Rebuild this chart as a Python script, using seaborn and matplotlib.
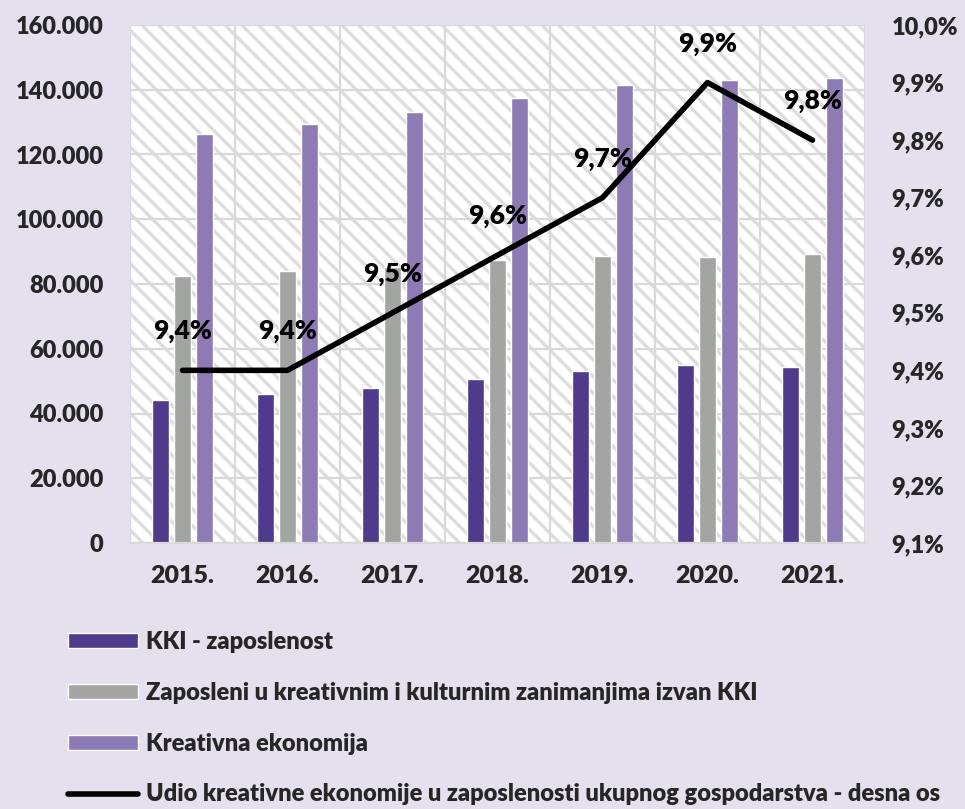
import matplotlib
matplotlib.use("Agg")
import matplotlib.pyplot as plt
import matplotlib.ticker as mticker
from matplotlib.patches import Rectangle
from matplotlib.lines import Line2D
import seaborn as sns
import pandas as pd
import numpy as np

years = ['2015.', '2016.', '2017.', '2018.', '2019.', '2020.', '2021.']
kki = [44200, 46000, 47900, 50700, 53100, 55000, 54400]
zaposleni = [82500, 84000, 85300, 87400, 88700, 88300, 89300]
kreativna = [126300, 129400, 133100, 137500, 141500, 143000, 143600]
udio = [9.4, 9.4, 9.5, 9.6, 9.7, 9.9, 9.8]
udio_labels = ['9,4%', '9,4%', '9,5%', '9,6%', '9,7%', '9,9%', '9,8%']

series_names = ['KKI - zaposlenost',
                'Zaposleni u kreativnim i kulturnim zanimanjima izvan KKI',
                'Kreativna ekonomija']
line_name = 'Udio kreativne ekonomije u zaposlenosti ukupnog gospodarstva - desna os'
colors = ['#4F3A8B', '#A3A5A3', '#8E7AB4']

sns.set_theme(style='white')
plt.rcParams['font.family'] = ['Lato', 'DejaVu Sans']
plt.rcParams['hatch.linewidth'] = 2.4
W = 'heavy'

bg = '#E5E0EE'
fig = plt.figure(figsize=(9.65, 8.09), dpi=100, facecolor=bg)
ax = fig.add_axes([130/965, 1-543/809, (865-130)/965, (543-25)/809])
ax.set_facecolor('white')

# hatched plot area
ax.add_patch(Rectangle((0, 0), 1, 1, transform=ax.transAxes, facecolor='white',
                       edgecolor='#DDDDDD', hatch='\\\\', linewidth=0, zorder=0.1))

df = pd.DataFrame({
    'year': years * 3,
    'value': kki + zaposleni + kreativna,
    'series': [series_names[0]] * 7 + [series_names[1]] * 7 + [series_names[2]] * 7,
})
sns.barplot(data=df, x='year', y='value', hue='series', palette=colors,
            width=0.63, gap=0.24, ax=ax, saturation=1, zorder=2)
handles, labels = ax.get_legend_handles_labels()
if ax.get_legend() is not None:
    ax.get_legend().remove()

ax.set_xlim(-0.5, 6.5)
ax.set_ylim(0, 160000)
ax.set_yticks(np.arange(0, 160001, 20000))
ax.yaxis.set_major_formatter(mticker.FuncFormatter(
    lambda v, p: f"{int(round(v)):,}".replace(',', '.')))
ax.set_xticks(np.arange(-0.5, 7, 1), minor=True)
ax.grid(True, axis='y', which='major', color='#D9D9D9', linewidth=1.6)
ax.grid(True, axis='x', which='minor', color='#D9D9D9', linewidth=1.6)
ax.grid(False, axis='x', which='major')
ax.set_axisbelow(True)
ax.set_xlabel('')
ax.set_ylabel('')
for s in ['top', 'right', 'left']:
    ax.spines[s].set_visible(False)
ax.spines['bottom'].set_color('#D9D9D9')
ax.spines['bottom'].set_linewidth(1.6)
ax.tick_params(axis='x', which='major', length=0, pad=16, labelsize=18)
ax.tick_params(axis='x', which='minor', length=6, color='#D9D9D9', width=1.6)
ax.tick_params(axis='y', length=0, pad=19, labelsize=17)
for t in ax.get_xticklabels() + ax.get_yticklabels():
    t.set_fontweight(W)

ax2 = ax.twinx()
ldf = pd.DataFrame({'x': np.arange(len(years)), 'udio': udio})
sns.lineplot(data=ldf, x='x', y='udio', ax=ax2, color='black', linewidth=4,
             solid_capstyle='round', label=line_name, legend=False)
ax2.set_ylim(9.1, 10.0)
ax2.set_yticks(np.arange(9.1, 10.001, 0.1))
ax2.yaxis.set_major_formatter(mticker.FuncFormatter(
    lambda v, p: f"{v:.1f}%".replace('.', ',')))
ax2.tick_params(axis='y', length=0, pad=19, labelsize=17)
for t in ax2.get_yticklabels():
    t.set_fontweight(W)
ax2.set_ylabel('')
for s in ax2.spines.values():
    s.set_visible(False)
ax2.set_xlim(-0.5, 6.5)

for xi, yv, lab in zip(range(len(years)), udio, udio_labels):
    ax2.annotate(lab, (xi, yv), xytext=(0, 28), textcoords='offset points',
                 ha='center', va='center', fontsize=19, fontweight=W,
                 color='black')

line_handle = Line2D([0], [0], color='black', linewidth=4, solid_capstyle='round')
leg = fig.legend(handles + [line_handle], series_names + [line_name],
                 loc='upper left', bbox_to_anchor=(68/965, 1-631/809),
                 frameon=False, fontsize=17, handlelength=2.95,
                 handleheight=0.6, handletextpad=0.35, labelspacing=1.22,
                 borderpad=0, borderaxespad=0)
for t in leg.get_texts():
    t.set_fontweight(W)

fig.savefig('out.png', dpi=100, facecolor=bg)
